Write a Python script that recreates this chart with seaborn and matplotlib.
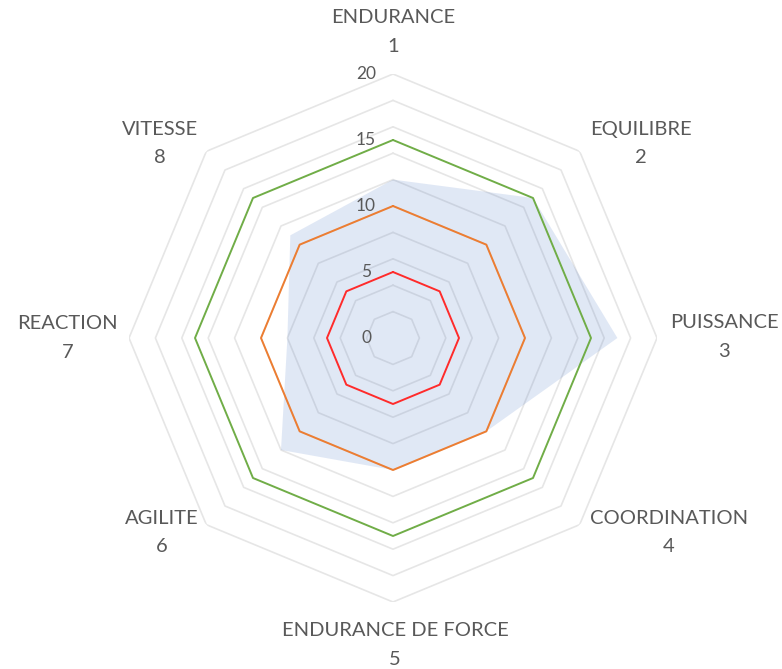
import numpy as np
import pandas as pd
import matplotlib
matplotlib.use("Agg")
import matplotlib.pyplot as plt
import seaborn as sns

# ---- data ----
categories = ["ENDURANCE\n1", "EQUILIBRE\n2", "PUISSANCE\n3", "COORDINATION\n4",
              "ENDURANCE DE FORCE\n5", "AGILITE\n6", "REACTION\n7", "VITESSE\n8"]
athlete = [12, 15, 17, 10, 10, 12, 8, 11]
level_low = [5, 5, 5, 5, 5, 5, 5, 5]
level_mid = [10, 10, 10, 10, 10, 10, 10, 10]
level_high = [15, 15, 15, 15, 15, 15, 15, 15]
grid_levels = [2, 4, 6, 8, 10, 12, 14, 16, 18, 20]
tick_labels = [0, 5, 10, 15, 20]

sns.set_theme(style="white")
plt.rcParams["font.family"] = ["Lato", "DejaVu Sans"]

TXT = "#595959"
n = len(categories)
theta = np.arange(n) * 2 * np.pi / n
theta_c = np.append(theta, theta[0])

def closed(v):
    return np.append(np.asarray(v, float), v[0])

fig = plt.figure(figsize=(7.82, 6.69), dpi=100)
ax = fig.add_axes([129 / 782, 67 / 669, 528 / 782, 528 / 669], projection="polar")
ax.set_theta_zero_location("N")
ax.set_theta_direction(-1)
ax.set_ylim(0, 20)
ax.grid(False)
ax.spines["polar"].set_visible(False)
ax.set_facecolor("white")

# octagonal gridlines
for g in grid_levels:
    ax.plot(theta_c, closed([g] * n), color="#e6e6e6", lw=1.2, zorder=1)

# filled series
ax.fill(theta_c, closed(athlete), color="#4472C4", alpha=0.16, lw=0, zorder=2)

# line series via seaborn
rows = []
for name, vals in [("low", level_low), ("mid", level_mid), ("high", level_high)]:
    for t, v in zip(theta_c, closed(vals)):
        rows.append({"series": name, "theta": t, "value": v})
df = pd.DataFrame(rows)
sns.lineplot(data=df, x="theta", y="value", hue="series", sort=False, ax=ax,
             palette={"low": "#FF2B2B", "mid": "#ED7D31", "high": "#70AD47"},
             linewidth=1.4, legend=False, zorder=3, estimator=None)
ax.set_xlabel("")
ax.set_ylabel("")
ax.set_xticks([])
ax.set_yticks([])
ax.set_ylim(0, 20)

# radial value labels
for v in tick_labels:
    ax.annotate(str(v), xy=(0, v), xytext=(-27, 0), textcoords="offset pixels",
                ha="center", va="center", fontsize=12.5, color=TXT, zorder=5)

# category labels
offsets = [(0, 42, "center"), (10, 8, "left"), (13, 1, "left"), (10, -8, "left"),
           (2, -43, "center"), (-8, -8, "right"), (-11, 0, "right"), (-8, 8, "right")]
for t, lab, (dx, dy, ha) in zip(theta, categories, offsets):
    ax.annotate(lab, xy=(t, 20), xytext=(dx, dy), textcoords="offset pixels",
                ha=ha, va="center", multialignment="center", fontsize=14.5,
                color=TXT, linespacing=1.8, annotation_clip=False)

fig.savefig("out.png", dpi=100, facecolor="white")
